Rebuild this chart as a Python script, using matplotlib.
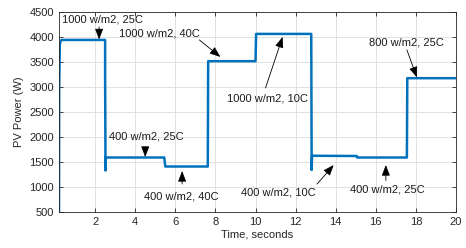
import numpy as np
import matplotlib
matplotlib.use("Agg")
import matplotlib.pyplot as plt

plt.rcParams['font.family'] = ['Liberation Sans', 'DejaVu Sans']

# step profile of the PV power (time in s, power in W)
time_s = [0.2, 0.21, 0.24, 0.27, 0.32, 2.48, 2.50, 2.50, 2.52, 2.52,
          5.45, 5.50, 7.62, 7.64, 10.0, 10.03, 12.78, 12.80, 12.82, 12.84,
          15.05, 15.07, 17.55, 17.57, 20.0]
power_w = [500, 3000, 3850, 3900, 3940, 3940, 3940, 3230, 1330, 1590,
           1590, 1410, 1410, 3515, 3515, 4060, 4060, 1340, 1620, 1625,
           1620, 1590, 1590, 3175, 3175]

# annotations: label, text position, arrow tail, arrow head
labels = ['1000 w/m2, 25C', '1000 w/m2, 40C', '1000 w/m2, 10C', '800 w/m2, 25C',
          '400 w/m2, 25C', '400 w/m2, 40C', '400 w/m2, 10C', '400 w/m2, 25C']
text_xy = [(2.2, 4340), (5.2, 4060), (10.6, 2760), (17.55, 3880),
           (4.57, 2000), (6.3, 820), (11.15, 900), (16.6, 960)]
tail_xy = [(2.2, 4200), (7.2, 3940), (10.5, 2980), (17.55, 3740),
           (4.5, 1800), (6.34, 1060), (13.07, 1060), (16.5, 1130)]
head_xy = [(2.2, 3950), (8.25, 3600), (11.35, 4000), (18.05, 3190),
           (4.5, 1600), (6.34, 1320), (13.9, 1440), (16.5, 1440)]

fig = plt.figure(figsize=(4.66, 2.48), dpi=100)
ax = fig.add_axes([0.1266, 0.145, 0.852, 0.807])

ax.plot(time_s, power_w, color='#0072BD', lw=1.8)

ax.set_xlim(0.2, 20)
ax.set_ylim(500, 4500)
ax.set_xticks(np.arange(2, 21, 2))
ax.set_yticks(np.arange(500, 4501, 500))
ax.grid(True, color='#dcdcdc', lw=0.6)
ax.set_axisbelow(True)
ax.tick_params(direction='in', top=True, right=True, labelsize=8,
               colors='#262626', length=3, width=0.6)
for s in ax.spines.values():
    s.set_color('#262626')
    s.set_linewidth(0.6)

ax.set_xlabel('Time, seconds', fontsize=8, color='#262626', labelpad=2)
ax.set_ylabel('PV Power (W)', fontsize=8, color='#262626', labelpad=4)

for lab, txy, t, h in zip(labels, text_xy, tail_xy, head_xy):
    ax.text(txy[0], txy[1], lab, fontsize=8, ha='center', va='center', color='#1a1a1a')
    ax.annotate('', xy=h, xytext=t,
                arrowprops=dict(arrowstyle='-|>,head_length=0.65,head_width=0.25',
                                color='black', lw=0.6, shrinkA=0, shrinkB=0))

# first label sits at the left edge
ax.texts[0].set_position((0.35, 4340))
ax.texts[0].set_ha('left')

fig.savefig('out.png', dpi=100)
